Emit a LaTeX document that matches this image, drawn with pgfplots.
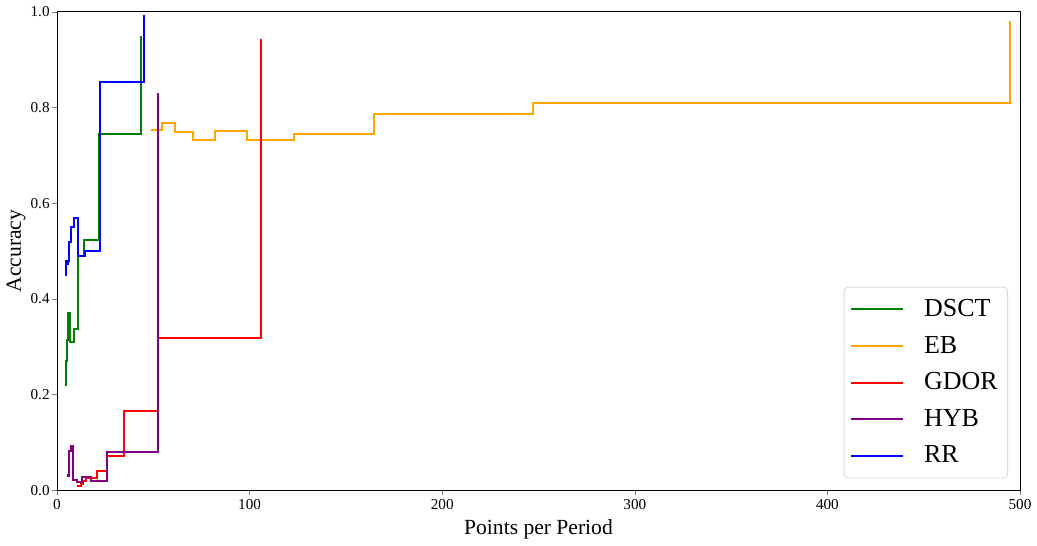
\documentclass[border=0pt]{standalone}
\usepackage{fontspec}
\setmainfont{Liberation Serif}
\usepackage{pgfplots}
\pgfplotsset{compat=1.18}
\definecolor{cdsct}{RGB}{0,128,0}
\definecolor{ceb}{RGB}{255,165,0}
\definecolor{cgdor}{RGB}{255,0,0}
\definecolor{chyb}{RGB}{128,0,128}
\definecolor{crr}{RGB}{0,0,255}

\begin{document}
\begin{tikzpicture}
\begin{axis}[
    scale only axis,
    width=482pt, height=239.5pt,
    xmin=0, xmax=500, ymin=0, ymax=1,
    xtick={0,100,200,300,400,500},
    ytick={0,0.2,0.4,0.6,0.8,1.0},
    yticklabel style={/pgf/number format/fixed,/pgf/number format/fixed zerofill,
        /pgf/number format/precision=1, inner xsep=1pt},
    xticklabel style={inner ysep=2pt, inner xsep=1pt},
    /pgf/number format/assume math mode=true,
    tick label style={font=\fontsize{7.6}{9}\selectfont},
    label style={font=\fontsize{10.8}{12}\selectfont},
    xlabel={Points per Period}, ylabel={Accuracy},
    xlabel style={yshift=1pt}, ylabel style={yshift=-2pt},
    tick align=outside, xtick pos=bottom, ytick pos=left,
    major tick length=2.5pt,
    every axis plot/.append style={line width=1pt, const plot},
    legend cell align=left,
    legend image code/.code={\draw[#1] (0pt,0pt) -- (26pt,0pt); \path (34pt,0pt);},
    legend style={at={(1,0)}, anchor=south east, xshift=-6pt, yshift=6pt,
        font=\fontsize{13}{15}\selectfont, draw=black!15, rounded corners=2pt,
        row sep=4.3pt, inner xsep=3pt, inner ysep=4pt},
]
% DSCT
\addplot[cdsct] coordinates {
 (4.1,0.22) (4.7,0.27) (5.2,0.314) (5.9,0.37) (6.9,0.309) (8.6,0.337)
 (10.7,0.49) (14.2,0.523) (21.9,0.744) (43.7,0.95)};
\addlegendentry{DSCT}
% EB
\addplot[ceb] coordinates {
 (48.8,0.754) (54.5,0.768) (61.4,0.748) (70.4,0.732) (82,0.751) (98.5,0.732)
 (123,0.745) (164.5,0.786) (247,0.81) (494.8,0.98)};
\addlegendentry{EB}
% GDOR
\addplot[cgdor] coordinates {
 (10.2,0.009) (12.4,0.014) (13.7,0.02) (15.2,0.025) (20.6,0.04) (25.8,0.071)
 (34.9,0.165) (52.4,0.319) (105.8,0.943)};
\addlegendentry{GDOR}
% HYB
\addplot[chyb] coordinates {
 (5.0,0.033) (5.6,0.03) (6.0,0.082) (7.3,0.093) (8.5,0.022) (10.2,0.017)
 (12.8,0.027) (17.4,0.02) (26,0.08) (52.4,0.83)};
\addlegendentry{HYB}
% RR
\addplot[crr] coordinates {
 (4.1,0.45) (4.7,0.48) (5.3,0.472) (5.8,0.48) (6.4,0.52) (7.3,0.55) (8.6,0.57)
 (11,0.49) (14.5,0.50) (22.5,0.854) (45.3,0.994)};
\addlegendentry{RR}
\end{axis}
\path ([xshift=8.5pt]current axis.south east);
\end{tikzpicture}
\end{document}
